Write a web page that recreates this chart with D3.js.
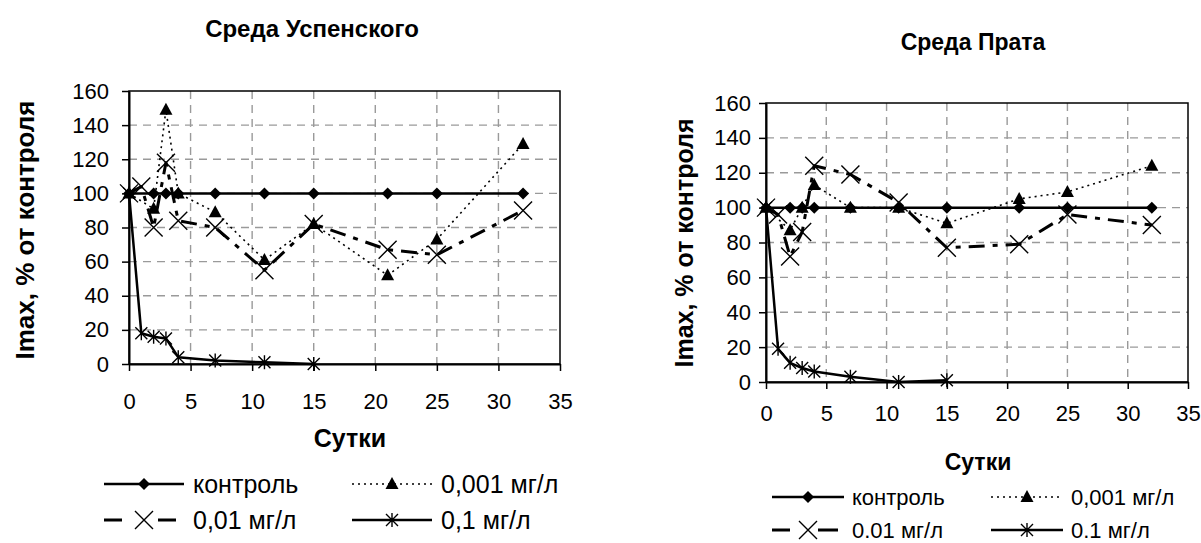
<!DOCTYPE html>
<html>
<head>
<meta charset="utf-8">
<script src="https://cdn.jsdelivr.net/npm/d3@7"></script>
<style>
  body { margin: 0; background: #fff; }
  svg { font-family: "Liberation Sans", Arial, sans-serif; }
</style>
</head>
<body>
<svg id="chart" width="1201" height="543"></svg>
<script>
// Sampling days (same for both media)
const days = [0, 1, 2, 3, 4, 7, 11, 15, 21, 25, 32];

// Среда Успенского
const uspControl = [100, null, 100, 100, 100, 100, 100, 100, 100, 100, 100];
const usp0001 = [100, null, 91, 149, 100, 89, 61, 82, 52, 73, 129];
const usp001 = [100, 104, 80, 118, 84, 80, 55, 82, 67, 64, 90];
const usp01 = [100, 18, 16, 15, 4, 2, 1, 0, null, null, null];

// Среда Прата
const pratControl = [100, null, 100, 100, 100, 100, 100, 100, 100, 100, 100];
const prat0001 = [100, null, 87, 100, 113, 100, 100, 91, 105, 109, 124];
const prat001 = [100, 96, 72, 86, 124, 119, 103, 77, 79, 96, 90];
const prat01 = [100, 19, 11, 8, 6, 3, 0, 1, null, null, null];

const namesUsp = ["контроль", "0,001 мг/л", "0,01 мг/л", "0,1 мг/л"];
const namesPrat = ["контроль", "0,001 мг/л", "0.01 мг/л", "0.1 мг/л"];

const xTicks = [0, 5, 10, 15, 20, 25, 30, 35];
const yTicks = [0, 20, 40, 60, 80, 100, 120, 140, 160];

// line/marker look of each series, in legend order
const styles = [
    { dash: null, width: 2.5, marker: "diamond" },
    { dash: "2,4", width: 1.6, marker: "triangle" },
    { dash: "16,8,5,8", width: 3, marker: "cross" },
    { dash: null, width: 2.5, marker: "star" }
];

const svg = d3.select("#chart");

function drawMarker(g, type, x, y) {
    if (type === "diamond") {
        g.append("path")
            .attr("d", `M${x},${y - 6}L${x + 6},${y}L${x},${y + 6}L${x - 6},${y}Z`)
            .attr("fill", "#000");
    } else if (type === "triangle") {
        g.append("path")
            .attr("d", `M${x},${y - 7}L${x + 6.5},${y + 5}L${x - 6.5},${y + 5}Z`)
            .attr("fill", "#000");
    } else if (type === "cross") {
        g.append("path")
            .attr("d", `M${x - 9},${y - 9}L${x + 9},${y + 9}M${x - 9},${y + 9}L${x + 9},${y - 9}`)
            .attr("stroke", "#000").attr("stroke-width", 1.4).attr("fill", "none");
    } else if (type === "star") {
        g.append("path")
            .attr("d", `M${x - 6},${y - 6}L${x + 6},${y + 6}M${x - 6},${y + 6}L${x + 6},${y - 6}M${x},${y - 7}L${x},${y + 7}`)
            .attr("stroke", "#000").attr("stroke-width", 1.4).attr("fill", "none");
    }
}

function drawChart(c) {
    const x = d3.scaleLinear().domain([0, 35]).range([c.left, c.right]);
    const y = d3.scaleLinear().domain([0, 160]).range([c.bottom, c.top]);
    const g = svg.append("g");

    // title
    g.append("text")
        .attr("x", c.titleX).attr("y", c.titleY)
        .attr("text-anchor", "middle")
        .attr("font-weight", "bold").attr("font-size", c.titleSize)
        .text(c.title);

    // dashed grid
    g.append("g").selectAll("line")
        .data(xTicks.slice(1, -1))
        .enter().append("line")
        .attr("x1", d => x(d)).attr("x2", d => x(d))
        .attr("y1", c.top).attr("y2", c.bottom)
        .attr("stroke", "#9a9a9a").attr("stroke-width", 1.4).attr("stroke-dasharray", "8,6");
    g.append("g").selectAll("line")
        .data(yTicks.slice(1, -1))
        .enter().append("line")
        .attr("x1", c.left).attr("x2", c.right)
        .attr("y1", d => y(d)).attr("y2", d => y(d))
        .attr("stroke", "#9a9a9a").attr("stroke-width", 1.4).attr("stroke-dasharray", "8,6");

    // plot border
    g.append("rect")
        .attr("x", c.left).attr("y", c.top)
        .attr("width", c.right - c.left).attr("height", c.bottom - c.top)
        .attr("fill", "none").attr("stroke", "#000").attr("stroke-width", 1.5);

    // axes
    const xAxis = g.append("g")
        .attr("transform", `translate(0,${c.bottom})`)
        .call(d3.axisBottom(x).tickValues(xTicks).tickSize(7).tickPadding(c.xPad).tickSizeOuter(0));
    const yAxis = g.append("g")
        .attr("transform", `translate(${c.left},0)`)
        .call(d3.axisLeft(y).tickValues(yTicks).tickSize(7).tickPadding(c.yPad).tickSizeOuter(0));
    [xAxis, yAxis].forEach(a => {
        a.select(".domain").attr("stroke", "#000").attr("stroke-width", 2);
        a.selectAll(".tick line").attr("stroke", "#000").attr("stroke-width", 1.5);
        a.selectAll("text").attr("font-size", c.tickSize).attr("fill", "#000")
            .attr("font-family", "'Liberation Sans', Arial, sans-serif");
    });

    // axis titles
    g.append("text")
        .attr("x", c.xTitleX).attr("y", c.xTitleY)
        .attr("text-anchor", "middle")
        .attr("font-weight", "bold").attr("font-size", c.axisTitleSize)
        .text("Сутки");
    g.append("text")
        .attr("transform", `translate(${c.yTitleX},${c.yTitleY}) rotate(-90)`)
        .attr("text-anchor", "middle")
        .attr("font-weight", "bold").attr("font-size", c.yTitleSize)
        .text("Imax, % от контроля");

    // series
    const line = d3.line().x(d => x(d.day)).y(d => y(d.value));
    c.series.forEach((values, i) => {
        const st = styles[i];
        const pts = days.map((d, j) => ({ day: d, value: values[j] }))
            .filter(p => p.value !== null);
        const sg = g.append("g");
        sg.append("path")
            .datum(pts)
            .attr("d", line)
            .attr("fill", "none")
            .attr("stroke", "#000")
            .attr("stroke-width", st.width)
            .attr("stroke-dasharray", st.dash)
            .attr("stroke-linejoin", "round");
        pts.forEach(p => drawMarker(sg, st.marker, x(p.day), y(p.value)));
    });

    // legend, 2 x 2
    c.names.forEach((name, i) => {
        const st = styles[i];
        const col = i % 2, row = Math.floor(i / 2);
        const lx = c.legCols[col], ly = c.legRows[row];
        const lg = g.append("g");
        lg.append("line")
            .attr("x1", lx).attr("x2", lx + c.legLen)
            .attr("y1", ly).attr("y2", ly)
            .attr("stroke", "#000")
            .attr("stroke-width", st.width)
            .attr("stroke-dasharray", st.marker === "cross" ? c.legCrossDash : st.dash);
        drawMarker(lg, st.marker, lx + c.legLen / 2, ly);
        lg.append("text")
            .attr("x", lx + c.legLen + c.legGap).attr("y", ly)
            .attr("dy", "0.35em")
            .attr("font-size", c.legSize)
            .text(name);
    });
}

drawChart({
    title: "Среда Успенского", titleX: 312, titleY: 37, titleSize: 24,
    left: 129, right: 560, top: 91, bottom: 364,
    xPad: 22, yPad: 13, tickSize: 22,
    xTitleX: 350, xTitleY: 447, axisTitleSize: 25,
    yTitleX: 34, yTitleY: 230, yTitleSize: 26,
    series: [uspControl, usp0001, usp001, usp01], names: namesUsp,
    legCols: [104, 352], legRows: [484, 520], legLen: 80, legGap: 9, legSize: 25,
    legCrossDash: "18,36,18,20"
});

drawChart({
    title: "Среда Прата", titleX: 973, titleY: 50, titleSize: 23,
    left: 766, right: 1188, top: 103, bottom: 382,
    xPad: 16, yPad: 8, tickSize: 22,
    xTitleX: 978, xTitleY: 470, axisTitleSize: 23,
    yTitleX: 693, yTitleY: 243, yTitleSize: 25,
    series: [pratControl, prat0001, prat001, prat01], names: namesPrat,
    legCols: [772, 991], legRows: [497, 530], legLen: 72, legGap: 8, legSize: 22,
    legCrossDash: "18,28,20,20"
});
</script>
</body>
</html>
